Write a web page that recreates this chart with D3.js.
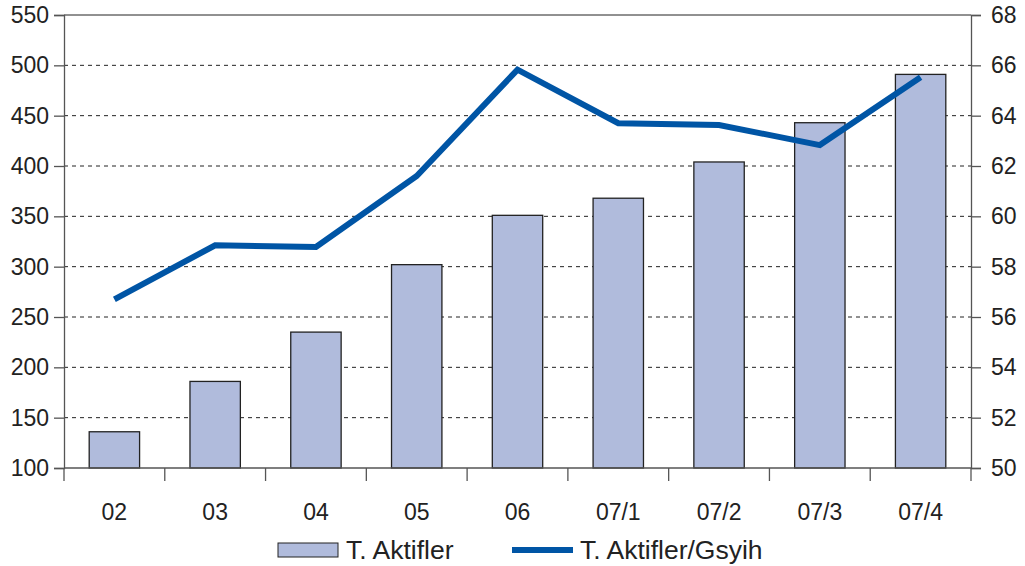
<!DOCTYPE html>
<html>
<head>
<meta charset="utf-8">
<script src="https://cdn.jsdelivr.net/npm/d3@7"></script>
<style>
  body { margin: 0; background: #fff; }
  text { font-family: "Liberation Sans", Arial, sans-serif; fill: #222; }
</style>
</head>
<body>
<svg id="chart" width="1025" height="566"></svg>
<script>
// data
var categories = ["02", "03", "04", "05", "06", "07/1", "07/2", "07/3", "07/4"];
var aktifler = [136, 186, 235, 302, 351, 368, 404, 443, 491];
var aktiflerGsyih = [56.7, 58.85, 58.78, 61.6, 65.83, 63.7, 63.63, 62.83, 65.53];
var leftTicks = [100, 150, 200, 250, 300, 350, 400, 450, 500, 550];
var rightTicks = [50, 52, 54, 56, 58, 60, 62, 64, 66, 68];

var margin = {top: 15, right: 54, bottom: 98, left: 64},
    width = 1025 - margin.left - margin.right,
    height = 566 - margin.top - margin.bottom;

var svg = d3.select("#chart")
  .append("g")
  .attr("transform", `translate(${margin.left},${margin.top})`);

var x = d3.scaleBand().domain(categories).range([0, width]).paddingInner(0.5).paddingOuter(0.25);
var yL = d3.scaleLinear().domain([100, 550]).range([height, 0]);
var yR = d3.scaleLinear().domain([50, 68]).range([height, 0]);

// grid lines
svg.append("g")
  .selectAll("line")
  .data(leftTicks.filter(d => d > 100))
  .join("line")
  .attr("x1", 0).attr("x2", width)
  .attr("y1", d => yL(d)).attr("y2", d => yL(d))
  .attr("stroke", "#222")
  .attr("stroke-width", 1)
  .attr("stroke-dasharray", d => d == 550 ? null : "4,4");

// bars
svg.selectAll("rect.bar")
  .data(aktifler)
  .join("rect")
  .attr("class", "bar")
  .attr("x", (d, i) => x(categories[i]))
  .attr("width", x.bandwidth())
  .attr("y", d => yL(d))
  .attr("height", d => height - yL(d))
  .attr("fill", "#b0bbdc")
  .attr("stroke", "#222")
  .attr("stroke-width", 1.3);

// line
var line = d3.line()
  .x((d, i) => x(categories[i]) + x.bandwidth() / 2)
  .y(d => yR(d));

svg.append("path")
  .datum(aktiflerGsyih)
  .attr("d", line)
  .attr("fill", "none")
  .attr("stroke", "#0055a5")
  .attr("stroke-width", 6);

// axes
var leftAxis = svg.append("g")
  .call(d3.axisLeft(yL).tickValues(leftTicks).tickSize(10).tickPadding(5));
var rightAxis = svg.append("g")
  .attr("transform", `translate(${width},0)`)
  .call(d3.axisRight(yR).tickValues(rightTicks).tickSize(10).tickPadding(10));

var bottomAxis = svg.append("g")
  .attr("transform", `translate(0,${height})`);
bottomAxis.append("line")
  .attr("x1", 0).attr("x2", width).attr("stroke", "#555").attr("stroke-width", 1.3);
var bounds = d3.range(categories.length + 1).map(i => i * width / categories.length);
bottomAxis.selectAll("line.tk")
  .data(bounds)
  .join("line")
  .attr("class", "tk")
  .attr("x1", d => d).attr("x2", d => d)
  .attr("y1", 0).attr("y2", 13)
  .attr("stroke", "#555").attr("stroke-width", 1.3);
bottomAxis.selectAll("text")
  .data(categories)
  .join("text")
  .attr("x", d => x(d) + x.bandwidth() / 2)
  .attr("y", 52)
  .attr("text-anchor", "middle")
  .style("font-size", "23px")
  .text(d => d);

[leftAxis, rightAxis].forEach(function (a) {
  a.select(".domain").attr("stroke", "#555").attr("stroke-width", 1.3);
  a.selectAll(".tick line").attr("stroke", "#555").attr("stroke-width", 1.3);
  a.selectAll(".tick text").style("font-size", "23px").attr("fill", "#222");
  a.attr("font-family", null);
});

// legend
var legend = d3.select("#chart").append("g");
legend.append("rect")
  .attr("x", 278).attr("y", 543).attr("width", 60).attr("height", 14)
  .attr("fill", "#b0bbdc").attr("stroke", "#222").attr("stroke-width", 1);
legend.append("text")
  .attr("x", 346).attr("y", 559)
  .style("font-size", "26.5px")
  .text("T. Aktifler");
legend.append("line")
  .attr("x1", 512).attr("x2", 573).attr("y1", 550).attr("y2", 550)
  .attr("stroke", "#0055a5").attr("stroke-width", 6);
legend.append("text")
  .attr("x", 580).attr("y", 559)
  .style("font-size", "26.5px")
  .text("T. Aktifler/Gsyih");
</script>
</body>
</html>
